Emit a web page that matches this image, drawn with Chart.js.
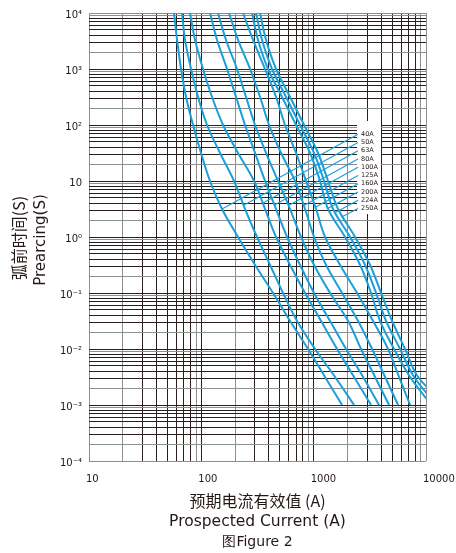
<!DOCTYPE html>
<html><head><meta charset="utf-8">
<script src="https://cdn.jsdelivr.net/npm/chart.js@4.4.1/dist/chart.umd.min.js"></script>
<style>html,body{margin:0;padding:0;background:#fff;}</style>
</head><body>
<canvas id="c" width="456" height="553"></canvas>
<script>
// ---- data (prospected current in A, pre-arcing time in s) ----
const TIME_S = [10000, 3300, 1000, 316, 100, 31.6, 10, 3.16, 1, 0.316, 0.1, 0.0316, 0.01, 0.00316, 0.001];
const I_40A  = [57.1, 60.8, 66.0, 73.1, 84.4, 99.4, 119.5, 152.9, 212.2, 300.8, 435.1, 616.4, 891.5, 1263, 1790];
const I_50A  = [67.3, 71.6, 81.0, 93.5, 112.4, 146.7, 195.5, 245.0, 313.3, 409.1, 534.0, 711.7, 1029, 1551, 2289];
const I_63A  = [79.3, 87.9, 103.5, 124.5, 156.1, 212.2, 294.7, 369.2, 462.7, 616.4, 838.3, 1164, 1616, 2289, 3244];
const I_80A  = [119.5, 138.0, 169.4, 203.7, 245.0, 300.8, 369.2, 462.7, 579.7, 756.7, 1008, 1400, 1943, 2754, 3823];
const I_100A = [140.8, 165.9, 207.9, 250.0, 300.8, 376.9, 482.0, 616.4, 772.4, 1008, 1400, 2025, 2643, 3521, 4693];
const I_125A = [176.5, 212.2, 271.5, 333.2, 400.8, 512.5, 683.1, 838.3, 1008, 1289, 1790, 2485, 3311, 4323, 5645];
const I_160A = [235.1, 288.7, 369.2, 462.7, 556.4, 697.2, 855.7, 1050, 1263, 1718, 2435, 3379, 4597, 5761, 7218];
const I_200A = [282.9, 319.8, 392.6, 523.2, 697.2, 928.8, 1140, 1343, 1904, 2590, 3244, 3902, 5199, 7218, 11170];
const I_224A = [307.0, 347.2, 426.2, 567.9, 756.7, 1008, 1238, 1488, 2110, 2869, 3594, 4412, 5880, 7834, 12400];
const I_250A = [333.2, 376.9, 462.7, 616.4, 821.3, 1094, 1343, 1649, 2337, 3178, 3983, 4990, 6515, 8505, 15100];

const CURVE_LABELS = ['40A','50A','63A','80A','100A','125A','160A','200A','224A','250A'];
const CURVES = [I_40A, I_50A, I_63A, I_80A, I_100A, I_125A, I_160A, I_200A, I_224A, I_250A];
// where each label's leader line meets its curve
const LEADER_I = [152.9, 240, 350.8, 447.7, 597.7, 816.4, 1035, 1343, 1557, 1811];
const LEADER_T = [3.16, 3.73, 4.0, 3.73, 3.65, 3.65, 3.40, 3.25, 2.73, 2.32];

const X_TICKS = [10, 100, 1000, 10000];
const X_TICK_LABELS = ['10', '100', '1000', '10000'];
const Y_TICKS = [1e-4, 1e-3, 1e-2, 1e-1, 1, 10, 100, 1000, 10000];
const Y_TICK_LABELS = ['10\u207B\u2074', '10\u207B\u00B3', '10\u207B\u00B2', '10\u207B\u00B9', '10\u2070', '10', '10\u00B2', '10\u00B3', '10\u2074'];

// ---- styles ----
const CURVE_COLOR = '#1c9fd8';
const DARK = '#2a1f1c';
const GREY = '#8e8e8e';
const TEXT = '#231815';

function labelFor(ticks, labels, v) {
  const i = ticks.findIndex(t => Math.abs(Math.log10(t) - Math.log10(v)) < 1e-6);
  return i >= 0 ? labels[i] : '';
}
function logTicks(scale) {
  const out = [];
  const e0 = Math.round(Math.log10(scale.min)), e1 = Math.round(Math.log10(scale.max));
  for (let e = e0; e <= e1; e++) {
    for (let m = 1; m <= 9; m++) {
      const v = parseFloat((m * Math.pow(10, e)).toPrecision(6));
      if (v <= scale.max * 1.0000001) out.push({ value: v });
    }
  }
  scale.ticks = out;
}
function gridColor(ctx) {
  const v = ctx.tick ? ctx.tick.value : 1;
  const n = ctx.scale.ticks.length;
  if (ctx.index === 0 || ctx.index === n - 1) return GREY;
  const e = Math.floor(Math.log10(v) + 1e-9);
  const m = Math.round(v / Math.pow(10, e));
  return (m === 2 || m === 9) ? GREY : DARK;
}

const datasets = CURVES.map((arr, k) => ({
  label: CURVE_LABELS[k],
  data: arr.map((I, j) => ({ x: I, y: TIME_S[j] })),
  borderColor: CURVE_COLOR,
  borderWidth: 2,
  pointRadius: 0,
  tension: 0.35,
  fill: false
}));

const annot = {
  id: 'annot',
  afterDatasetsDraw(chart) {
    const { ctx, chartArea: a, scales: { x, y } } = chart;
    ctx.save();
    const bx = a.right - 69, by = a.top + 108, bw = 24, bh = 93;
    ctx.fillStyle = '#fff';
    ctx.fillRect(bx, by, bw, bh);
    ctx.strokeStyle = CURVE_COLOR;
    ctx.lineWidth = 1.2;
    CURVE_LABELS.forEach((lab, i) => {
      const ly = a.top + 121.3 + 8.25 * i;
      ctx.beginPath();
      ctx.moveTo(bx + 1, ly);
      ctx.lineTo(x.getPixelForValue(LEADER_I[i]), y.getPixelForValue(LEADER_T[i]));
      ctx.stroke();
      ctx.fillStyle = TEXT;
      ctx.font = '6.5px "DejaVu Sans"';
      ctx.textBaseline = 'middle';
      ctx.textAlign = 'left';
      ctx.fillText(lab, bx + 4, ly);
    });
    ctx.restore();
  },
  afterDraw(chart) {
    const { ctx, chartArea: a } = chart;
    ctx.save();
    ctx.fillStyle = TEXT;
    ctx.textAlign = 'center';
    ctx.textBaseline = 'middle';
    const cy = (a.top + a.bottom) / 2;
    ctx.save();
    ctx.translate(19, cy + 1);
    ctx.rotate(-Math.PI / 2);
    ctx.font = '16px "Noto Sans CJK SC"';
    ctx.fillText('弧前时间(S)', 0, 0);
    ctx.restore();
    ctx.save();
    ctx.translate(41, cy + 3);
    ctx.rotate(-Math.PI / 2);
    ctx.font = '15px "DejaVu Sans"';
    ctx.fillText('Prearcing(S)', 0, 0);
    ctx.restore();
    const cx = (a.left + a.right) / 2;
    ctx.font = '16px "Noto Sans CJK SC"';
    ctx.fillText('预期电流有效值 (A)', cx, a.bottom + 40);
    ctx.font = '15.5px "DejaVu Sans"';
    ctx.fillText('Prospected Current (A)', cx, a.bottom + 61);
    ctx.font = '14px "DejaVu Sans"';
    ctx.fillText('图Figure 2', cx, a.bottom + 81);
    ctx.restore();
  }
};

new Chart(document.getElementById('c'), {
  type: 'line',
  data: { datasets },
  plugins: [annot],
  options: {
    responsive: false,
    devicePixelRatio: 1,
    animation: false,
    layout: { padding: { top: 13, right: 30, left: 0, bottom: 0 } },
    plugins: { legend: { display: false }, tooltip: { enabled: false } },
    scales: {
      x: {
        type: 'logarithmic', min: 10, max: 10000,
        afterBuildTicks: logTicks,
        afterFit: s => { s.height = 92; s.paddingLeft = 0; s.paddingRight = 0; },
        grid: { color: gridColor, lineWidth: 1, drawTicks: false },
        border: { display: false },
        ticks: {
          autoSkip: false, maxRotation: 0, align: 'start', labelOffset: -3, padding: 12,
          color: TEXT, font: { family: 'DejaVu Sans', size: 10 },
          callback: v => labelFor(X_TICKS, X_TICK_LABELS, v)
        }
      },
      y: {
        type: 'logarithmic', min: 1e-4, max: 1e4,
        afterBuildTicks: logTicks,
        afterFit: s => { s.width = 89; s.paddingTop = 0; s.paddingBottom = 0; },
        grid: { color: gridColor, lineWidth: 1, drawTicks: false },
        border: { display: false },
        ticks: {
          autoSkip: false, padding: 7, labelOffset: 2,
          color: TEXT, font: { family: 'DejaVu Sans', size: 10 },
          callback: v => labelFor(Y_TICKS, Y_TICK_LABELS, v)
        }
      }
    }
  }
});
</script>
</body></html>
